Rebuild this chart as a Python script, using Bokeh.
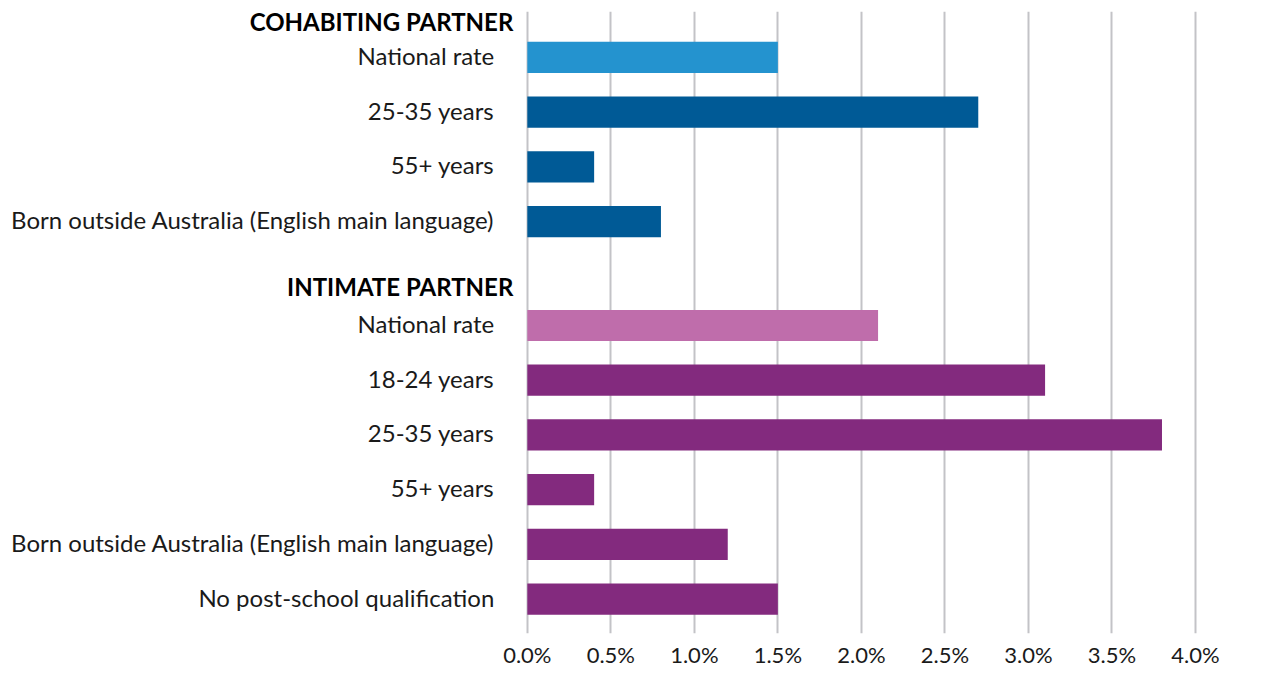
from bokeh.plotting import figure
from bokeh.models import Range1d, FixedTicker, ColumnDataSource
from bokeh.core.properties import value
from bokeh.embed import file_html
from bokeh.resources import INLINE

# Share of people (%) by group, two partner-violence categories
cohab_labels = ["National rate", "25-35 years", "55+ years",
                "Born outside Australia (English main language)"]
cohab_values = [1.5, 2.7, 0.4, 0.8]

intimate_labels = ["National rate", "18-24 years", "25-35 years", "55+ years",
                   "Born outside Australia (English main language)",
                   "No post-school qualification"]
intimate_values = [2.1, 3.1, 3.8, 0.4, 1.2, 1.5]

group_titles = ["COHABITING PARTNER", "INTIMATE PARTNER"]
x_ticks = [0.0, 0.5, 1.0, 1.5, 2.0, 2.5, 3.0, 3.5, 4.0]

BLUE_NAT, BLUE = "#2493CF", "#005A96"
PINK_NAT, PURPLE = "#BF6DAB", "#832A7E"
TEXT = "#1a1a1a"
FONT = "Lato"

# row positions: second group sits after a gap of about one row
GAP = 1.9
cohab_pos = [float(i) for i in range(len(cohab_labels))]
intimate_pos = [len(cohab_labels) - 1 + GAP + i for i in range(len(intimate_labels))]

ys = cohab_pos + intimate_pos
vals = cohab_values + intimate_values
cols = [BLUE_NAT] + [BLUE] * (len(cohab_values) - 1) + [PINK_NAT] + [PURPLE] * (len(intimate_values) - 1)
src = ColumnDataSource(dict(y=ys, right=vals, color=cols))

# plot area spans the full width; the left part (negative x) holds the row labels
PX_PER_UNIT = 166.75
x_start = -526 / PX_PER_UNIT
x_end = 4.0 + 68 / PX_PER_UNIT

p = figure(width=1263, height=681, output_backend="svg", toolbar_location=None,
           x_range=Range1d(x_start, x_end), y_range=Range1d(10.53, -0.84),
           min_border_left=0, min_border_right=0, min_border_top=11, min_border_bottom=48)
p.outline_line_color = None
p.background_fill_color = "white"
p.border_fill_color = "white"

p.hbar(y="y", left=0, right="right", height=0.57, color="color", source=src, line_color=None)

# row labels, right-aligned just left of the zero line
lab_src = ColumnDataSource(dict(y=ys, text=cohab_labels + intimate_labels))
p.text(x=-33 / PX_PER_UNIT, y="y", text="text", source=lab_src, y_offset=-2,
       text_align="right", text_baseline="middle",
       text_font=value(FONT), text_font_size="24px", text_color=TEXT)

# bold group headers
head_src = ColumnDataSource(dict(y=[cohab_pos[0] - 0.64, intimate_pos[0] - 0.69], text=group_titles))
p.text(x=-14 / PX_PER_UNIT, y="y", text="text", source=head_src, y_offset=-1,
       text_align="right", text_baseline="middle",
       text_font=value(FONT), text_font_style="bold", text_font_size="24px", text_color="black")

# x axis: percentage ticks, no line
p.xaxis.ticker = FixedTicker(ticks=x_ticks)
p.xaxis.major_label_overrides = {t: f"{t:.1f}%" for t in x_ticks}
p.xaxis.axis_line_color = None
p.xaxis.major_tick_line_color = None
p.xaxis.minor_tick_line_color = None
p.xaxis.major_tick_out = 0
p.xaxis.major_label_standoff = 7
p.xaxis.major_label_text_font = FONT
p.xaxis.major_label_text_font_size = "22px"
p.xaxis.major_label_text_color = TEXT

p.yaxis.visible = False

p.xgrid.ticker = FixedTicker(ticks=x_ticks)
p.xgrid.grid_line_color = "#C3C3C7"
p.xgrid.grid_line_width = 2
p.ygrid.grid_line_color = None

open("out.html", "w").write(file_html(p, INLINE))
